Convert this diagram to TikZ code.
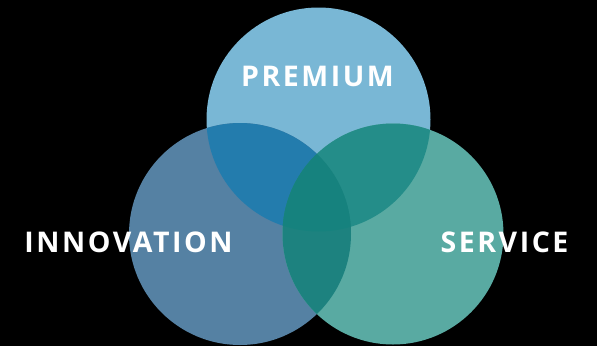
\documentclass[tikz,border=0pt]{standalone}
\usepackage{fontspec}
\setmainfont{Open Sans}
\newfontfamily\labelfont[LetterSpace=9]{Open Sans Bold}
\begin{document}
\begin{tikzpicture}[x=1pt,y=-1pt,
  lbl/.style={text=white,font=\labelfont\fontsize{28.5}{32}\selectfont,inner sep=0pt}]
\definecolor{cTop}{HTML}{79B7D5}
\definecolor{cLeft}{HTML}{5581A3}
\definecolor{cRight}{HTML}{59AAA2}
\definecolor{cTL}{HTML}{237CAD}
\definecolor{cTR}{HTML}{248D89}
\definecolor{cLR}{HTML}{1D827F}
\definecolor{cAll}{HTML}{16827E}
\fill[black] (0,0) rectangle (597,346);
\useasboundingbox (0,0) rectangle (597,346);
\def\topc{(318.5,119.5) circle[radius=112]}
\def\leftc{(240,234) circle[radius=111]}
\def\rightc{(393,234) circle[radius=110.5]}
\begin{scope}
\clip (0,0) rectangle (597,346);
\fill[cTop] \topc;
\fill[cLeft] \leftc;
\fill[cRight] \rightc;
\begin{scope}\clip \topc; \fill[cTL] \leftc; \fill[cTR] \rightc; \end{scope}
\begin{scope}\clip \leftc; \fill[cLR] \rightc; \end{scope}
\begin{scope}\clip \topc; \clip \leftc; \fill[cAll] \rightc; \end{scope}
\end{scope}
\node[lbl] (premium) at (317.5,76.5) {PREMIUM};
\node[lbl] (innovation) at (128.5,242) {INNOVATION};
\node[lbl] (service) at (504.5,242) {SERVICE};
\end{tikzpicture}
\end{document}
